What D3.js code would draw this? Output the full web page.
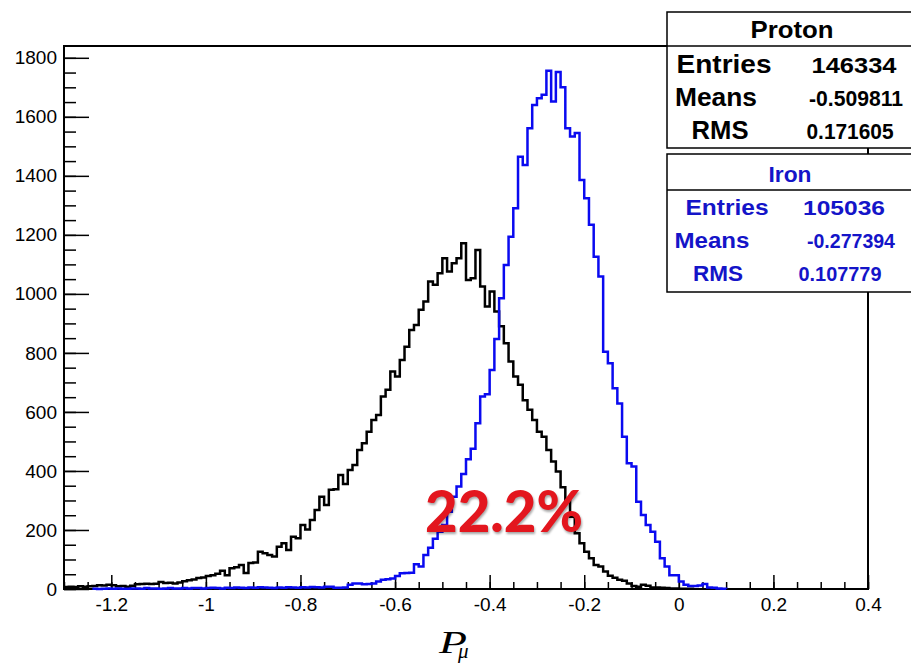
<!DOCTYPE html>
<html>
<head>
<meta charset="utf-8">
<script src="https://cdn.jsdelivr.net/npm/d3@7"></script>
<style>
body { margin: 0; background: #fff; }
svg { display: block; font-family: "Liberation Sans", Arial, Helvetica, sans-serif; }
.tick text { font-family: "Liberation Sans", Arial, Helvetica, sans-serif; font-size: 19px; fill: #000; }
.tick line { stroke: #000; stroke-width: 1.5; }
</style>
</head>
<body>
<div id="chart"></div>
<script>
//Canvas size
var width = 911, height = 663;

//Histogram binning (170 bins of 0.01 from -1.3 to 0.4)
var binStart = -1.3, binWidth = 0.01;

//Proton counts per bin (black)
var protonCounts = [
  7, 8, 7, 9, 8, 9, 10, 13, 12, 14,
  13, 9, 10, 8, 11, 16, 17, 18, 17, 18,
  24, 20, 21, 19, 22, 26, 30, 32, 37, 39,
  44, 47, 52, 62, 47, 70, 74, 81, 54, 88,
  90, 126, 121, 115, 110, 143, 155, 132, 177, 172,
  217, 202, 234, 268, 313, 285, 336, 338, 386, 356,
  403, 420, 471, 494, 533, 573, 590, 652, 675, 737,
  720, 776, 821, 878, 895, 946, 974, 1042, 1031, 1070,
  1121, 1076, 1104, 1121, 1172, 1047, 1053, 1149, 1025, 957,
  1008, 940, 890, 833, 771, 720, 692, 640, 607, 573,
  533, 516, 471, 432, 398, 345, 300, 245, 189, 155,
  126, 104, 81, 76, 59, 45, 38, 31, 28, 19,
  10, 8, 14, 11, 5, 5, 4, 3, 2, 2,
  1, 1, 1, 0, 0, 0, 0, 0, 0, 0,
  0, 0, 0, 0, 0, 0, 0, 0, 0, 0,
  0, 0, 0, 0, 0, 0, 0, 0, 0, 0,
  0, 0, 0, 0, 0, 0, 0, 0, 0, 0
];

//Iron counts per bin (blue)
var ironCounts = [
  0, 0, 0, 0, 0, 0, 1, 0, 1, 2,
  1, 2, 1, 1, 2, 2, 1, 3, 2, 2,
  1, 2, 3, 2, 2, 3, 2, 3, 3, 2,
  3, 4, 3, 2, 4, 3, 5, 4, 3, 5,
  4, 6, 5, 4, 3, 5, 4, 6, 5, 4,
  6, 5, 7, 6, 5, 8, 8, 4, 4, 5,
  14, 19, 19, 16, 17, 19, 25, 31, 33, 36,
  44, 53, 54, 55, 84, 76, 115, 140, 170, 194,
  217, 262, 313, 347, 390, 440, 475, 562, 652, 660,
  742, 847, 985, 1098, 1194, 1290, 1465, 1437, 1561, 1640,
  1663, 1675, 1756, 1652, 1752, 1700, 1561, 1533, 1545, 1386,
  1324, 1234, 1126, 1059, 804, 765, 680, 629, 516, 426,
  415, 296, 251, 217, 194, 160, 104, 76, 47, 47,
  25, 14, 10, 10, 12, 17, 5, 4, 2, 1,
  0, 0, 0, 0, 0, 0, 0, 0, 0, 0,
  0, 0, 0, 0, 0, 0, 0, 0, 0, 0,
  0, 0, 0, 0, 0, 0, 0, 0, 0, 0
];

//Axis ticks
var xTicks = [-1.2, -1, -0.8, -0.6, -0.4, -0.2, 0, 0.2, 0.4];
var xMinorTicks = d3.range(-1.3, 0.4001, 0.05);
var yTicks = [0, 200, 400, 600, 800, 1000, 1200, 1400, 1600, 1800];
var yMinorTicks = d3.range(0, 1801, 50);

//Stats boxes
var statLabels = ["Entries", "Means", "RMS"];
var protonStats = ["146334", "-0.509811", "0.171605"];
var ironStats = ["105036", "-0.277394", "0.107779"];

var annotation = "22.2%";

var svg = d3.select("#chart").append("svg")
    .attr("width", width)
    .attr("height", height);

var x = d3.scaleLinear().domain([-1.3, 0.4]).range([64, 868]);
var y = d3.scaleLinear().domain([0, 1840]).range([589, 46]);

//minor ticks first, then major ones with labels
svg.append("g")
    .attr("transform", "translate(0,589)")
    .call(d3.axisBottom(x).tickValues(xMinorTicks).tickSize(-7).tickFormat(""))
    .call(function(g) { g.select(".domain").remove(); });

svg.append("g")
    .attr("transform", "translate(0,589)")
    .call(d3.axisBottom(x).tickValues(xTicks).tickSize(-14).tickPadding(9)
        .tickFormat(function(d) { return String(d); }))
    .call(function(g) { g.select(".domain").remove(); });

svg.append("g")
    .attr("transform", "translate(64,0)")
    .call(d3.axisLeft(y).tickValues(yMinorTicks).tickSize(-12).tickFormat(""))
    .call(function(g) { g.select(".domain").remove(); });

svg.append("g")
    .attr("transform", "translate(64,0)")
    .call(d3.axisLeft(y).tickValues(yTicks).tickSize(-25).tickPadding(7)
        .tickFormat(function(d) { return String(d); }))
    .call(function(g) { g.select(".domain").remove(); });

//frame
svg.append("rect")
    .attr("x", 64).attr("y", 46)
    .attr("width", 868 - 64).attr("height", 589 - 46)
    .attr("fill", "none")
    .attr("stroke", "#000")
    .attr("stroke-width", 2);

//step outline for one histogram, trimmed to its non-empty bins
function histPoints(counts){
    var first = counts.findIndex(function(c) { return c > 0; });
    var last = counts.length - 1;
    while (last > 0 && counts[last] == 0) last--;
    var pts = [];
    for (var i = first; i <= last; i++){
        pts.push([binStart + i * binWidth, counts[i]]);
    }
    pts.push([binStart + (last + 1) * binWidth, 0]);
    return pts;
}

var stepLine = d3.line()
    .x(function(d) { return x(d[0]); })
    .y(function(d) { return y(d[1]); })
    .curve(d3.curveStepAfter);

svg.append("path")
    .attr("d", stepLine(histPoints(protonCounts)))
    .attr("fill", "none")
    .attr("stroke", "#000")
    .attr("stroke-width", 2.5);

svg.append("path")
    .attr("d", stepLine(histPoints(ironCounts)))
    .attr("fill", "none")
    .attr("stroke", "#0a0af0")
    .attr("stroke-width", 2.5);

//red percentage label
svg.append("text")
    .attr("x", 425).attr("y", 532)
    .attr("textLength", 158)
    .attr("lengthAdjust", "spacingAndGlyphs")
    .attr("style", "font-family: Lato, 'Open Sans', sans-serif; font-weight: 900; font-size: 58px; filter: drop-shadow(1px 2px 1px rgba(0,0,0,0.35))")
    .attr("fill", "#e3161e")
    .text(annotation);

//axis title, P with subscript mu
svg.append("text")
    .attr("x", 439).attr("y", 653)
    .attr("textLength", 28)
    .attr("lengthAdjust", "spacingAndGlyphs")
    .attr("style", "font-family: 'Liberation Serif', 'Times New Roman', serif; font-style: italic; font-size: 32px")
    .text("P");
svg.append("text")
    .attr("x", 458).attr("y", 658)
    .attr("style", "font-family: 'Liberation Serif', 'Times New Roman', serif; font-style: italic; font-size: 21px")
    .text("μ");

//stats box: header + three rows
function statsBox(top, headerH, bottom, name, values, color, o){
    var g = svg.append("g").attr("fill", color);
    g.append("rect")
        .attr("x", 667).attr("y", top)
        .attr("width", 260).attr("height", bottom - top)
        .attr("fill", "#fff")
        .attr("stroke", "#000")
        .attr("stroke-width", 1.5);
    g.append("line")
        .attr("x1", 667).attr("x2", 927)
        .attr("y1", top + headerH).attr("y2", top + headerH)
        .attr("stroke", "#000")
        .attr("stroke-width", 1.5);
    g.append("text")
        .attr("x", o.headX).attr("y", o.headY)
        .attr("text-anchor", "middle")
        .attr("textLength", o.headLen)
        .attr("lengthAdjust", "spacingAndGlyphs")
        .attr("style", "font-weight: bold; font-size: " + o.headSize + "px")
        .text(name);
    for (var i = 0; i < statLabels.length; i++){
        g.append("text")
            .attr("x", o.labelX[i]).attr("y", o.rowY[i])
            .attr("text-anchor", "middle")
            .attr("textLength", o.labelLen[i])
            .attr("lengthAdjust", "spacingAndGlyphs")
            .attr("style", "font-weight: bold; font-size: " + o.rowSize + "px")
            .text(statLabels[i]);
        g.append("text")
            .attr("x", o.valueX[i]).attr("y", o.rowY[i])
            .attr("text-anchor", "middle")
            .attr("textLength", o.valueLen[i])
            .attr("lengthAdjust", "spacingAndGlyphs")
            .attr("style", "font-weight: bold; font-size: " + o.valueSize + "px")
            .text(values[i]);
    }
}

statsBox(12, 34, 148, "Proton", protonStats, "#000", {
    headX: 792, headY: 38, headLen: 83, headSize: 23,
    rowY: [73, 106, 139], rowSize: 25, valueSize: 22,
    labelX: [724, 716, 720], labelLen: [95, 82, 57],
    valueX: [854, 856, 850], valueLen: [85, 94, 87]
});

statsBox(154, 36, 292, "Iron", ironStats, "#1414c8", {
    headX: 790, headY: 182, headLen: 43, headSize: 22,
    rowY: [215, 248, 281], rowSize: 21.5, valueSize: 21,
    labelX: [727, 712, 718], labelLen: [83, 75, 50],
    valueX: [844, 851, 840], valueLen: [82, 88, 83]
});
</script>
</body>
</html>
